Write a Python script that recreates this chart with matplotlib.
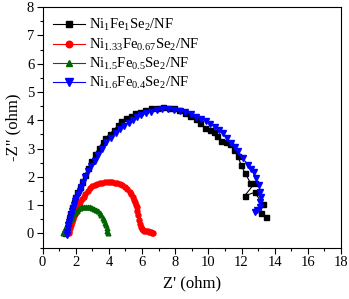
import matplotlib
matplotlib.use("Agg")
import matplotlib.pyplot as plt
from matplotlib.ticker import MultipleLocator

plt.rcParams['font.family'] = ['Liberation Serif', 'DejaVu Serif']
plt.rcParams['mathtext.fontset'] = 'custom'
plt.rcParams['mathtext.rm'] = 'Liberation Serif'
plt.rcParams['mathtext.it'] = 'Liberation Serif:italic'

labels = [r"Ni$_\mathrm{1}$Fe$_\mathrm{1}$Se$_\mathrm{2}$/NF",
          r"Ni$_\mathrm{1.33}$Fe$_\mathrm{0.67}$Se$_\mathrm{2}$/NF",
          r"Ni$_\mathrm{1.5}$Fe$_\mathrm{0.5}$Se$_\mathrm{2}$/NF",
          r"Ni$_\mathrm{1.6}$Fe$_\mathrm{0.4}$Se$_\mathrm{2}$/NF"]

x_nife1 = [1.38, 1.45, 1.52, 1.60, 1.68, 1.77, 1.87, 1.98, 2.10, 2.24, 2.38, 2.55, 2.74, 2.95,
           3.17, 3.39, 3.62, 3.79, 4.05, 4.31, 4.55, 4.76, 5.05, 5.32, 5.60, 5.86, 6.20, 6.56,
           6.90, 7.27, 7.60, 7.93, 8.25, 8.60, 8.90, 9.23, 9.50, 9.80, 10.10, 10.34, 10.55,
           10.78, 11.05, 11.28, 11.55, 11.78, 11.97, 12.19, 12.53, 12.79, 12.19, 12.79, 13.29,
           13.15, 13.49]
y_nife1 = [0.02, 0.20, 0.38, 0.56, 0.74, 0.92, 1.10, 1.28, 1.46, 1.64, 1.82, 2.06, 2.30, 2.56,
           2.80, 3.03, 3.22, 3.36, 3.52, 3.66, 3.82, 3.97, 4.07, 4.15, 4.25, 4.30, 4.37, 4.42,
           4.45, 4.48, 4.45, 4.42, 4.35, 4.25, 4.15, 4.05, 3.90, 3.74, 3.67, 3.60, 3.45,
           3.27, 3.22, 3.15, 2.95, 2.74, 2.42, 2.15, 1.80, 1.77, 1.33, 1.45, 1.04,
           0.73, 0.57]

x_ni133 = [1.58, 1.62, 1.66, 1.71, 1.76, 1.82, 1.88, 1.95, 2.02, 2.10, 2.18, 2.27, 2.37, 2.47,
           2.58, 2.71, 2.85, 2.99, 3.14, 3.29, 3.45, 3.61, 3.77, 3.93, 4.05, 4.20, 4.36, 4.51,
           4.66, 4.81, 4.96, 5.11, 5.26, 5.36, 5.45, 5.52, 5.58, 5.63, 5.68, 5.72, 5.77, 5.82,
           5.86, 5.91, 5.97, 6.05, 6.14, 6.24, 6.34, 6.44, 6.53, 6.61, 6.66]
y_ni133 = [0.00, 0.10, 0.20, 0.30, 0.40, 0.50, 0.60, 0.70, 0.80, 0.90, 1.00, 1.10, 1.20, 1.30,
           1.40, 1.50, 1.59, 1.66, 1.71, 1.75, 1.78, 1.80, 1.82, 1.83, 1.83, 1.82, 1.80, 1.77,
           1.75, 1.70, 1.64, 1.56, 1.47, 1.38, 1.28, 1.19, 1.10, 1.02, 0.94, 0.80, 0.64, 0.48,
           0.34, 0.22, 0.15, 0.12, 0.10, 0.09, 0.08, 0.06, 0.04, 0.02, 0.00]

x_ni15 = [1.24, 1.30, 1.36, 1.43, 1.50, 1.58, 1.66, 1.75, 1.85, 1.95, 2.05, 2.16, 2.28, 2.40,
          2.52, 2.64, 2.76, 2.88, 3.00, 3.12, 3.24, 3.35, 3.45, 3.55, 3.63, 3.70, 3.76, 3.82,
          3.87, 3.91, 3.95]
y_ni15 = [0.00, 0.07, 0.14, 0.22, 0.30, 0.38, 0.46, 0.55, 0.65, 0.74, 0.81, 0.86, 0.90, 0.92,
          0.93, 0.94, 0.94, 0.93, 0.91, 0.88, 0.84, 0.79, 0.73, 0.65, 0.56, 0.47, 0.38, 0.29,
          0.19, 0.10, 0.01]

x_ni16 = [1.45, 1.48, 1.52, 1.56, 1.60, 1.65, 1.70, 1.76, 1.82, 1.89, 1.96, 2.04, 2.13, 2.23,
          2.34, 2.45, 2.55, 2.75, 2.95, 3.15, 3.35, 3.60, 3.85, 4.12, 4.40, 4.66, 4.92, 5.20,
          5.46, 5.70, 5.95, 6.25, 6.56, 6.90, 7.23, 7.58, 7.93, 8.27, 8.60, 8.95, 9.28, 9.56,
          9.84, 10.12, 10.38, 10.64, 10.88, 11.12, 11.35, 11.58, 11.78, 12.08, 12.39, 12.60,
          12.73, 12.85, 13.05, 13.13, 13.19, 13.13, 13.09, 12.93, 12.79]
y_ni16 = [-0.06, 0.06, 0.18, 0.30, 0.42, 0.54, 0.66, 0.78, 0.90, 1.02, 1.14, 1.26, 1.38, 1.50,
          1.63, 1.82, 2.00, 2.20, 2.38, 2.57, 2.77, 3.00, 3.24, 3.39, 3.54, 3.68, 3.81, 3.91,
          4.01, 4.10, 4.19, 4.25, 4.30, 4.35, 4.40, 4.39, 4.37, 4.34, 4.30, 4.22, 4.13, 4.06,
          3.97, 3.88, 3.77, 3.66, 3.54, 3.37, 3.20, 3.05, 2.93, 2.65, 2.42, 2.29,
          2.16, 1.95, 1.71, 1.47, 1.30, 1.12, 0.94, 0.82, 0.77]

fig = plt.figure(figsize=(3.49, 2.99), dpi=100)
ax = fig.add_axes([0.122, 0.172, 0.855, 0.804])

ax.plot(x_nife1, y_nife1, color='black', marker='s', ms=3.6, lw=0.8, label=labels[0])
ax.plot(x_ni133, y_ni133, color='#ff0000', marker='o', ms=3.6, lw=0.8, label=labels[1])
ax.plot(x_ni15, y_ni15, color='#006400', marker='^', ms=3.4, lw=0.8, label=labels[2])
ax.plot(x_ni16, y_ni16, color='#0000ff', marker='v', ms=4.6, lw=0.8, label=labels[3])

ax.set_xlim(0, 18)
ax.set_ylim(-0.5, 8)
ax.xaxis.set_major_locator(MultipleLocator(2))
ax.xaxis.set_minor_locator(MultipleLocator(1))
ax.yaxis.set_major_locator(MultipleLocator(1))
ax.yaxis.set_minor_locator(MultipleLocator(0.5))
ax.tick_params(which='major', direction='out', length=4, width=0.8, labelsize=10.5, pad=2)
ax.tick_params(which='minor', direction='out', length=2, width=0.8)
for s in ax.spines.values():
    s.set_linewidth(0.8)

ax.set_xlabel("Z' (ohm)", fontsize=12, labelpad=5)
ax.set_ylabel('-Z" (ohm)', fontsize=12, labelpad=4)

leg = ax.legend(loc='upper left', frameon=False, fontsize=10.5, handlelength=2.2,
                handletextpad=0.3, labelspacing=0.22, borderaxespad=0.3, markerscale=1.3)

fig.savefig("out.png", dpi=100)
